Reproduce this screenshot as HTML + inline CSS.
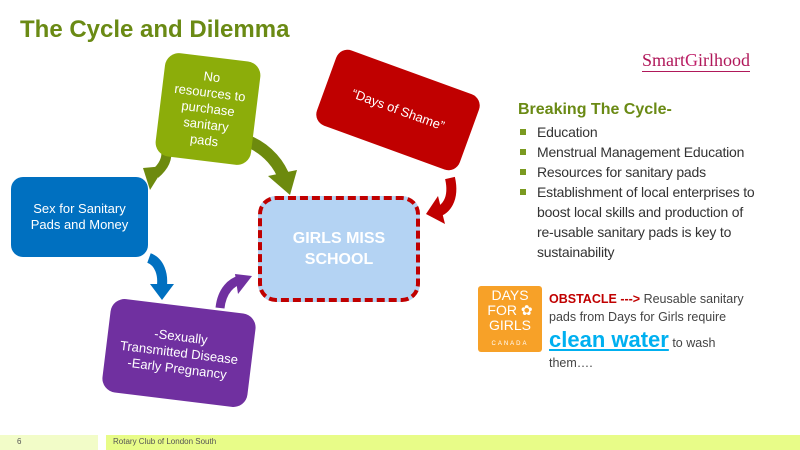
<!DOCTYPE html>
<html><head><meta charset="utf-8"><style>
body{margin:0;width:800px;height:450px;overflow:hidden;background:#fff;font-family:"Liberation Sans",sans-serif;position:relative}
.a{position:absolute}
.box{position:absolute;display:flex;align-items:center;justify-content:center;text-align:center;color:#fff;font-size:13px;line-height:16px}
ul{margin:0;padding:0;list-style:none}
li{position:relative;padding-left:19px;font-size:14px;line-height:20px;color:#333;white-space:nowrap}
li:before{content:"";position:absolute;left:2px;top:7px;width:6px;height:6px;background:#7a9a20}
</style></head><body>
<div class="a" style="left:20px;top:16px;font-size:24px;font-weight:bold;color:#6a8a14">The Cycle and Dilemma</div>
<svg class="a" style="left:0;top:0" width="800" height="450">
 <path d="M166 150 C168 160 162 168 155 174" stroke="#6d8a0e" stroke-width="10" fill="none"/>
 <polygon points="143,168 165,166 150,190" fill="#6d8a0e"/>
 <path d="M250 142 C268 150 280 165 285 180" stroke="#6d8a0e" stroke-width="12" fill="none"/>
 <polygon points="268,176 297,170 290,195" fill="#6d8a0e"/>
 <path d="M450 178 C455 200 445 210 437 212" stroke="#c00000" stroke-width="10" fill="none"/>
 <polygon points="438,196 426,214 445,224" fill="#c00000"/>
 <path d="M149 258 C160 262 163 275 162 285" stroke="#0070c0" stroke-width="10" fill="none"/>
 <polygon points="150,284 174,284 162,300" fill="#0070c0"/>
 <path d="M220 308 C222 290 232 282 240 280" stroke="#7030a0" stroke-width="9" fill="none"/>
 <polygon points="235,274 252,276 238,294" fill="#7030a0"/>
</svg>
<div class="box" style="left:160px;top:57px;width:96px;height:104px;background:#8cad0a;border-radius:14px;transform:rotate(7deg);font-size:13px">No<br>resources to<br>purchase<br>sanitary<br>pads</div>
<div class="box" style="left:322px;top:70px;width:152px;height:80px;background:#c00000;border-radius:12px;transform:rotate(20deg)">“Days of Shame”</div>
<div class="box" style="left:11px;top:177px;width:137px;height:80px;background:#0070c0;border-radius:12px">Sex for Sanitary<br>Pads and Money</div>
<div class="box" style="left:258px;top:196px;width:154px;height:98px;background:#b4d3f3;border:4px dashed #c00000;border-radius:18px;font-size:16px;font-weight:bold;line-height:21px">GIRLS MISS<br>SCHOOL</div>
<div class="box" style="left:106px;top:306px;width:146px;height:94px;background:#7030a0;border-radius:14px;transform:rotate(7deg)">-Sexually<br>Transmitted Disease<br>-Early Pregnancy</div>
<div class="a" style="left:642px;top:50px;font-family:'Liberation Serif',serif;font-size:18px;color:#b0185a;border-bottom:1px solid #b0185a">Smart<span style="color:#c0206a">G</span>irlhood</div>
<div class="a" style="left:518px;top:101px;font-size:16px;font-weight:bold;color:#6a8a14">Breaking The Cycle-</div>
<ul class="a" style="left:518px;top:122px;width:270px;letter-spacing:-0.2px">
<li>Education</li><li>Menstrual Management Education</li><li>Resources for sanitary pads</li><li>Establishment of local enterprises to<br>boost local skills and production of<br>re-usable sanitary pads is key to<br>sustainability</li></ul>
<div class="a" style="left:478px;top:286px;width:64px;height:66px;background:#f7a128;border-radius:3px;color:#fff;font-size:14px;line-height:15px;text-align:center;padding-top:2px;box-sizing:border-box">DAYS<br>FOR ✿<br>GIRLS<br><span style="font-size:6px;letter-spacing:2px">CANADA</span></div>
<div class="a" style="left:549px;top:290px;width:220px;font-size:12.5px;line-height:18px;color:#444"><b style="color:#c00000">OBSTACLE</b> <b style="color:#c00000">---&gt;</b> Reusable sanitary pads from Days for Girls require<br><span style="font-size:22px;font-weight:bold;color:#00b0f0;text-decoration:underline;line-height:28px">clean water</span> to wash<br>them….</div>
<div class="a" style="left:0;top:435px;width:98px;height:15px;background:#f2fcc8"></div>
<div class="a" style="left:106px;top:435px;width:694px;height:15px;background:#e8fc88"></div>
<div class="a" style="left:17px;top:437px;font-size:8px;color:#555">6</div>
<div class="a" style="left:113px;top:437px;font-size:8px;color:#555">Rotary Club of London South</div>
</body></html>
